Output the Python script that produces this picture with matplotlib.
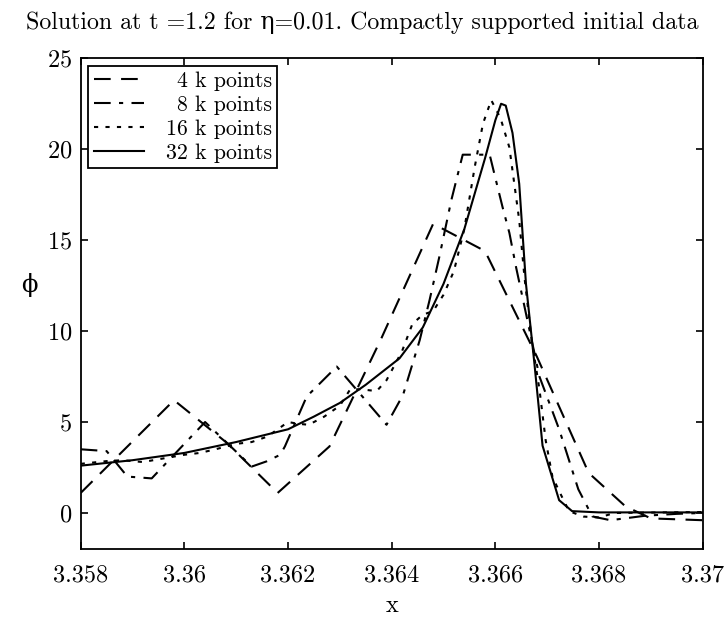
#%% import packages
import numpy as np
import matplotlib
matplotlib.use('Agg')
import matplotlib.pyplot as plt

#%% data
# 4 k points (long dashes)
x_4k = [3.3580, 3.3598, 3.3608, 3.3618, 3.3628, 3.3638, 3.3648, 3.3658,
        3.3668, 3.3678, 3.36851, 3.3690, 3.3700]
y_4k = [1.1, 6.2, 3.9, 1.1, 3.66, 9.6, 15.9, 14.4,
        8.6, 2.2, 0.36, -0.3, -0.4]

# 8 k points (dash-dot)
x_8k = [3.3580, 3.3585, 3.3589, 3.35937, 3.3599, 3.3604, 3.3613, 3.36159,
        3.36185, 3.36194, 3.36236, 3.36294, 3.3639, 3.36422, 3.36454, 3.36473,
        3.36492, 3.36515, 3.36537, 3.36589, 3.36601, 3.36614, 3.36627, 3.3664,
        3.36685, 3.36723, 3.3676, 3.36787, 3.36822, 3.3689, 3.3695, 3.3700]
y_8k = [3.5, 3.4, 2.0, 1.9, 3.5, 5.0, 2.55, 2.84,
        3.2, 3.66, 6.4, 8.05, 4.85, 6.5, 9.5, 11.7,
        14.1, 17.2, 19.7, 19.7, 18.3, 16.8, 15.4, 13.5,
        7.5, 4.6, 1.3, -0.19, -0.4, -0.15, -0.05, 0.0]

# 16 k points (dotted)
x_16k = [3.3580, 3.3585, 3.3588, 3.3592, 3.3596, 3.3600, 3.3603, 3.3606,
         3.3610, 3.3613, 3.3616, 3.3620, 3.3622, 3.3624, 3.3627, 3.3630,
         3.3632, 3.3634, 3.36371, 3.3639, 3.3642, 3.3644, 3.3646, 3.3648,
         3.3650, 3.3652, 3.3654, 3.3656, 3.36576, 3.36592, 3.3661, 3.36627,
         3.36646, 3.36656, 3.3667, 3.36685, 3.36697, 3.3671, 3.36723, 3.36742,
         3.3677, 3.3680, 3.3683, 3.3700]
y_16k = [2.7, 2.85, 2.9, 2.8, 3.0, 3.2, 3.3, 3.5,
         3.8, 3.9, 4.2, 5.0, 4.9, 4.85, 5.3, 5.9,
         6.8, 6.8, 6.7, 7.3, 8.9, 10.4, 10.9, 11.1,
         12.0, 13.3, 15.6, 19.0, 21.4, 22.7, 21.7, 20.1,
         16.1, 13.0, 9.5, 6.8, 4.0, 2.0, 1.2, 0.1,
         -0.2, -0.25, 0.0, 0.05]

# 32 k points (solid)
x_32k = [3.3580, 3.3590, 3.3600, 3.3610, 3.3620, 3.3625, 3.3630, 3.3635,
         3.36415, 3.3646, 3.3650, 3.3654, 3.3658, 3.3660, 3.36611, 3.3662,
         3.36633, 3.36646, 3.36659, 3.36675, 3.36691, 3.36723, 3.36748, 3.3680,
         3.3700]
y_32k = [2.6, 2.9, 3.3, 3.9, 4.6, 5.3, 6.05, 7.05,
         8.5, 10.2, 12.6, 15.6, 19.5, 21.6, 22.5, 22.4,
         20.9, 18.1, 12.6, 8.3, 3.7, 0.7, 0.1, 0.03,
         0.03]

labels_ = ['4 k points', '8 k points', '16 k points', '32 k points']
x_ticks_ = [3.358, 3.36, 3.362, 3.364, 3.366, 3.368, 3.37]
x_tick_labels_ = ['3.358', '3.36', '3.362', '3.364', '3.366', '3.368', '3.37']
y_ticks_ = [0, 5, 10, 15, 20, 25]

#%% style
plt.rcParams['font.family'] = ['cmr10', 'DejaVu Serif']
plt.rcParams['axes.formatter.use_mathtext'] = True
plt.rcParams['font.size'] = 17.5
plt.rcParams['xtick.direction'] = 'in'
plt.rcParams['ytick.direction'] = 'in'

fig = plt.figure(figsize=(7.27, 6.17), dpi=100)
ax = fig.add_axes([0.111, 0.1097, 0.8556, 0.7958])

lw_ = 1.5
ax.plot(x_4k, y_4k, color='k', lw=lw_, dashes=(8, 5), label=labels_[0])
ax.plot(x_8k, y_8k, color='k', lw=lw_, dashes=(8, 4, 2, 4), label=labels_[1])
ax.plot(x_16k, y_16k, color='k', lw=lw_, dashes=(2, 3.5), label=labels_[2])
ax.plot(x_32k, y_32k, color='k', lw=lw_, label=labels_[3])

ax.set_xlim([3.358, 3.37])
ax.set_ylim([-2, 25])
ax.set_xticks(x_ticks_)
ax.set_xticklabels(x_tick_labels_)
ax.set_yticks(y_ticks_)
ax.tick_params(top=True, right=True, length=5, width=1.2, labelsize=17.5)
ax.tick_params(axis='x', pad=11)
ax.tick_params(axis='y', pad=6)
for s_ in ax.spines.values():
    s_.set_linewidth(1.3)

ax.set_xlabel('x', fontsize=17.5, labelpad=6)
ax.set_ylabel('\u03d5', fontsize=17.5, rotation=0, va='center')
ax.yaxis.set_label_coords(-0.082, 0.538)
# the title sits centred on the figure, not on the axes
ax.set_title('Solution at t =1.2 for \u03b7=0.01. Compactly supported initial data',
             fontsize=17.2, pad=21, x=0.452)

leg_ = ax.legend(loc='upper left', fontsize=15.7, frameon=True, fancybox=False,
                 edgecolor='k', framealpha=1, handlelength=2.3, labelspacing=0.2,
                 borderpad=0.25, handletextpad=1.0, borderaxespad=0.35)
leg_.get_frame().set_linewidth(1.3)

# right-align legend labels like the original
fig.canvas.draw()
renderer_ = fig.canvas.get_renderer()
widths_ = [t_.get_window_extent(renderer_).width for t_ in leg_.get_texts()]
for t_, w_ in zip(leg_.get_texts(), widths_):
    t_.set_position((max(widths_) - w_, 0))

fig.savefig('out.png', dpi=100)
